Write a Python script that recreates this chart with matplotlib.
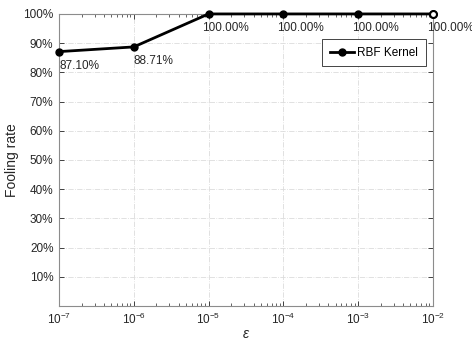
import numpy as np
import matplotlib
matplotlib.use("Agg")
import matplotlib.pyplot as plt
from matplotlib.ticker import FuncFormatter, LogLocator, NullFormatter

plt.rcParams["font.family"] = ["Liberation Sans", "DejaVu Sans"]
plt.rcParams["mathtext.fontset"] = "custom"
plt.rcParams["mathtext.rm"] = "Liberation Sans"
plt.rcParams["mathtext.it"] = "Liberation Sans:italic"

# data
epsilon = [1e-7, 1e-6, 1e-5, 1e-4, 1e-3, 1e-2]
fooling_rate = [87.10, 88.71, 100.0, 100.0, 100.0, 100.0]
point_labels = ["87.10%", "88.71%", "100.00%", "100.00%", "100.00%", "100.00%"]
y_ticks = [10, 20, 30, 40, 50, 60, 70, 80, 90, 100]

GRAY = "#262626"
GRIDC = "#dcdcdc"

fig = plt.figure(figsize=(4.72, 3.40), dpi=100)
ax = fig.add_axes([0.125, 0.1, 0.792, 0.859])

ax.plot(epsilon, fooling_rate, "-o", color="black", lw=2, ms=5,
        label="RBF Kernel", clip_on=False, zorder=5)
# marker sitting on the right edge shows up hollow in the original
ax.plot(epsilon[-1:], fooling_rate[-1:], "o", color="black", mfc="white",
        ms=5, mew=1.5, clip_on=False, zorder=6)

for x, y, lab in zip(epsilon, fooling_rate, point_labels):
    dx = -4.5 if y >= 100 else 0
    ax.annotate(lab, (x, y), xytext=(dx, -6), textcoords="offset points",
                ha="left", va="top", fontsize=8.5, color=GRAY)

ax.set_xscale("log")
ax.set_xlim(1e-7, 1e-2)
ax.set_ylim(0, 100)
ax.set_yticks(y_ticks)
ax.yaxis.set_major_formatter(FuncFormatter(lambda v, p: f"{v:.0f}%"))
ax.xaxis.set_major_locator(LogLocator(base=10, numticks=10))
ax.xaxis.set_minor_locator(LogLocator(base=10, subs=np.arange(2, 10), numticks=10))
ax.xaxis.set_minor_formatter(NullFormatter())

ax.grid(True, which="major", color=GRIDC, ls="-.", lw=0.6)
ax.tick_params(which="both", direction="in", top=True, right=True,
               colors=GRAY, labelsize=8.5)
ax.tick_params(which="major", length=3.5, width=0.6, pad=4)
ax.tick_params(which="minor", length=2, width=0.5)
for s in ax.spines.values():
    s.set_color("#8c8c8c")
    s.set_linewidth(0.8)

ax.set_ylabel("Fooling rate", fontsize=10, color=GRAY, labelpad=3)
ax.set_xlabel(r"$\epsilon$", fontsize=10, color=GRAY, labelpad=0)

leg = ax.legend(loc="upper right", bbox_to_anchor=(0.981, 0.914), fontsize=8.5,
                fancybox=False, edgecolor=GRAY, framealpha=1,
                handlelength=2.0, handletextpad=0.3, borderpad=0.65,
                borderaxespad=0)
leg.get_frame().set_linewidth(0.6)

fig.savefig("out.png", dpi=100)
